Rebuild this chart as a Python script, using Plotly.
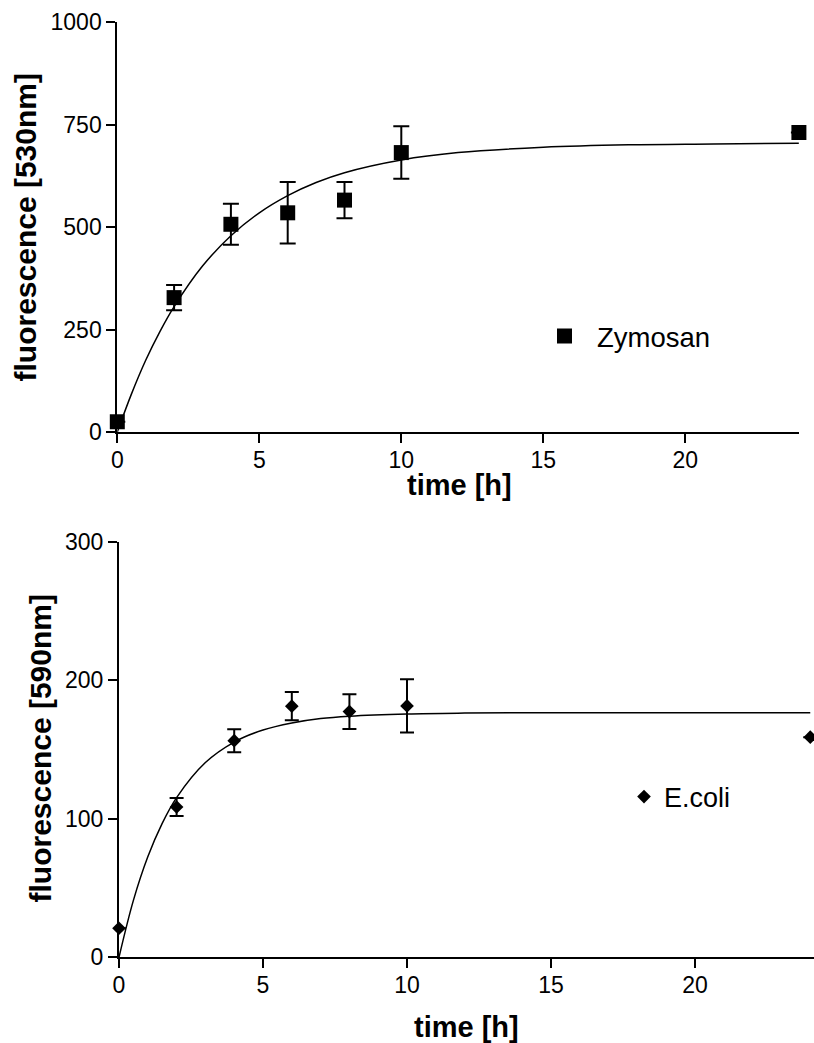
import plotly.graph_objects as go

# ---------------- data ----------------
time_h = [0, 2, 4, 6, 8, 10, 24]

zymosan_mean = [25, 328, 507, 535, 566, 682, 731]
zymosan_sem = [None, 31, 50, 75, 44, 64, None]

ecoli_mean = [21, 108.6, 156.5, 181.4, 177.5, 181.6, 159]
ecoli_sem = [None, 6.5, 8.3, 10.2, 12.6, 19.2, None]

# fitted curves
fit_t = [0, 0.5, 1, 1.5, 2, 3, 4, 5, 6, 7, 8, 10, 12, 15, 18, 21, 24]
zymosan_fit = [0, 93, 175, 245, 306, 405, 479, 535, 577, 609, 633, 664, 682, 695, 701, 703, 705]
ecoli_fit = [0, 41.1, 72.6, 96.8, 115.4, 140.7, 155.5, 164.2, 169.3, 172.5, 174.2, 175.8, 176.4, 176.7, 176.7, 176.7, 176.7]

x_ticks = [0, 5, 10, 15, 20]
y1_ticks = [0, 250, 500, 750, 1000]
y2_ticks = [0, 100, 200, 300]

FONT = "Liberation Sans, Arial, sans-serif"
W, H = 814, 1043

fig = go.Figure()

# top panel
fig.add_trace(go.Scatter(
    x=fit_t, y=zymosan_fit, mode="lines", line=dict(color="black", width=1.5, shape="spline"),
    xaxis="x", yaxis="y", showlegend=False, hoverinfo="skip"))
fig.add_trace(go.Scatter(
    x=time_h, y=zymosan_mean, mode="markers", name="Zymosan",
    marker=dict(symbol="square", size=15, color="black"),
    error_y=dict(type="data", array=zymosan_sem, visible=True, color="black", thickness=2, width=8),
    xaxis="x", yaxis="y", cliponaxis=False, legend="legend"))

# bottom panel
fig.add_trace(go.Scatter(
    x=fit_t, y=ecoli_fit, mode="lines", line=dict(color="black", width=1.5, shape="spline"),
    xaxis="x2", yaxis="y2", showlegend=False, hoverinfo="skip"))
fig.add_trace(go.Scatter(
    x=time_h, y=ecoli_mean, mode="markers", name="E.coli",
    marker=dict(symbol="diamond", size=10.5, color="black"),
    error_y=dict(type="data", array=ecoli_sem, visible=True, color="black", thickness=2, width=7),
    xaxis="x2", yaxis="y2", cliponaxis=False, legend="legend2"))

def px_x(p):
    return p / W

def px_y(p):
    return 1 - p / H

axis_common = dict(
    showline=True, linecolor="black", linewidth=2,
    ticks="outside", ticklen=9, tickwidth=2, tickcolor="black",
    showgrid=False, zeroline=False, automargin=False,
    tickfont=dict(family=FONT, size=23, color="black"),
)

fig.update_layout(
    template="none",
    width=W, height=H,
    margin=dict(l=0, r=0, t=0, b=0, autoexpand=False),
    paper_bgcolor="white", plot_bgcolor="white",
    xaxis=dict(domain=[px_x(117.3), px_x(798.9)], range=[0, 24], anchor="y",
               tickvals=x_ticks, ticklabelstandoff=-3, **axis_common),
    yaxis=dict(domain=[px_y(432), px_y(22.3)], range=[0, 1000], anchor="x",
               tickvals=y1_ticks, **axis_common),
    xaxis2=dict(domain=[px_x(119), 1.0], range=[0, 24.13], anchor="y2",
                tickvals=x_ticks, ticklabelstandoff=-3, **axis_common),
    yaxis2=dict(domain=[px_y(957.3), px_y(542)], range=[0, 300], anchor="x2",
                tickvals=y2_ticks, **axis_common),
    legend=dict(x=px_x(532), y=px_y(336), xanchor="left", yanchor="middle",
                itemwidth=55, bgcolor="rgba(0,0,0,0)",
                font=dict(family=FONT, size=27.5, color="black")),
    legend2=dict(x=px_x(624), y=px_y(797), xanchor="left", yanchor="middle",
                 itemwidth=30, bgcolor="rgba(0,0,0,0)",
                 font=dict(family=FONT, size=27, color="black")),
    annotations=[
        dict(text="<b>fluorescence [530nm]</b>", textangle=-90, xref="paper", yref="paper",
             x=px_x(25), y=px_y(227.5), xanchor="center", yanchor="middle", showarrow=False,
             font=dict(family=FONT, size=30, color="black")),
        dict(text="<b>time [h]</b>", xref="paper", yref="paper",
             x=px_x(459), y=px_y(485), xanchor="center", yanchor="middle", showarrow=False,
             font=dict(family=FONT, size=29, color="black")),
        dict(text="<b>fluorescence [590nm]</b>", textangle=-90, xref="paper", yref="paper",
             x=px_x(40), y=px_y(748.5), xanchor="center", yanchor="middle", showarrow=False,
             font=dict(family=FONT, size=30, color="black")),
        dict(text="<b>time [h]</b>", xref="paper", yref="paper",
             x=px_x(466), y=px_y(1027), xanchor="center", yanchor="middle", showarrow=False,
             font=dict(family=FONT, size=29, color="black")),
    ],
)

fig.write_html("out.html")
